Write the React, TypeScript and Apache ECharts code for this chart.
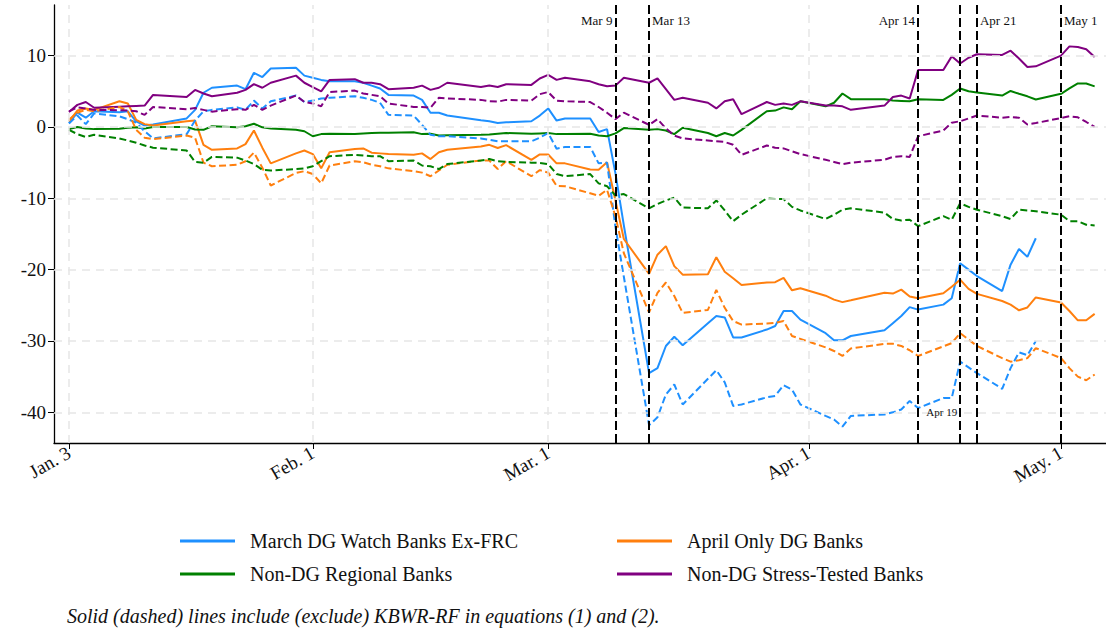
import React, { useEffect, useRef } from "react";
import * as echarts from "echarts";

// Trading days (2023)
const dates: string[] = [
  "2023-01-03","2023-01-04","2023-01-05","2023-01-06","2023-01-09","2023-01-10","2023-01-11","2023-01-12","2023-01-13","2023-01-17",
  "2023-01-18","2023-01-19","2023-01-20","2023-01-23","2023-01-24","2023-01-25","2023-01-26","2023-01-27","2023-01-30","2023-01-31",
  "2023-02-01","2023-02-02","2023-02-03","2023-02-06","2023-02-07","2023-02-08","2023-02-09","2023-02-10","2023-02-13","2023-02-14",
  "2023-02-15","2023-02-16","2023-02-17","2023-02-21","2023-02-22","2023-02-23","2023-02-24","2023-02-27","2023-02-28",
  "2023-03-01","2023-03-02","2023-03-03","2023-03-06","2023-03-07","2023-03-08","2023-03-09","2023-03-10","2023-03-13","2023-03-14",
  "2023-03-15","2023-03-16","2023-03-17","2023-03-20","2023-03-21","2023-03-22","2023-03-23","2023-03-24","2023-03-27","2023-03-28",
  "2023-03-29","2023-03-30","2023-03-31",
  "2023-04-03","2023-04-04","2023-04-05","2023-04-06","2023-04-10","2023-04-11","2023-04-12","2023-04-13","2023-04-14","2023-04-17",
  "2023-04-18","2023-04-19","2023-04-20","2023-04-21","2023-04-24","2023-04-25","2023-04-26","2023-04-27","2023-04-28",
  "2023-05-01","2023-05-02","2023-05-03","2023-05-04","2023-05-05",
];

// March DG Watch Banks Ex-FRC
const marchSolid: (number | null)[] = [
  0.55, 2.0, 1.3, 2.2, 2.05, 2.2, 0.8, 0.2, 0.35, 1.2, 2.4, 4.8, 5.5, 5.8, 5.3, 7.6, 7.0, 8.2, 8.3, 7.2,
  6.9, 6.6, 6.4, 6.4, 6.2, 5.8, 5.4, 4.5, 4.4, 3.8, 2.0, 2.0, 1.6, 0.95, 0.8, 0.55, 0.65, 0.8, 1.6,
  2.6, 0.9, 1.2, 1.2, -0.7, -0.3, -6.5, -13.8, -34.5, -33.8, -30.7, -29.4, -30.6, -27.5, -26.5, -26.7, -29.5, -29.5, -28.4, -27.9, -25.8, -25.8, -27.0,
  -28.9, -29.9, -29.9, -29.3, -28.5, -27.5, -26.5, -25.25, -25.6, -24.9, -24.0, -19.1, -20.0, -20.9, -23.0, -19.3, -17.1, -18.2, -15.6,
  null, null, null, null, null,
];
const marchDashed: (number | null)[] = [
  0.5, 1.6, 0.4, 1.9, 1.5, 1.1, 0.6, -0.6, -1.6, -1.0, 0.9, 2.2, 2.4, 2.75, 2.4, 3.7, 2.6, 3.6, 4.4, 3.5,
  3.7, 4.0, 4.1, 4.3, 4.1, 3.8, 3.4, 1.7, 1.6, 0.3, -1.1, -1.3, -1.3, -1.6, -1.8, -2.0, -2.0, -2.0, -1.5,
  -0.85, -3.05, -2.8, -2.8, -5.1, -5.0, -14.0, -21.0, -41.8, -40.7, -37.5, -36.1, -38.9, -35.3, -34.1, -35.8, -39.1, -38.9, -37.9, -37.7, -36.2, -36.8, -38.9,
  -40.5, -41.0, -42.0, -40.5, -40.3, -40.0, -39.6, -38.4, -39.4, -38.0, -38.0, -32.9, -33.7, -34.5, -36.7, -33.8, -31.6, -32.0, -30.0,
  null, null, null, null, null,
];

// April Only DG Banks
const aprilSolid: number[] = [
  0.8, 2.3, 2.6, 2.4, 3.6, 3.3, 1.0, 0.4, 0.2, 0.8, 0.9, -2.5, -3.2, -3.0, -2.4, -0.5, -2.9, -5.1, -3.7, -3.3,
  -3.8, -5.8, -3.55, -3.1, -3.0, -3.6, -3.7, -3.8, -3.9, -3.7, -4.5, -3.55, -3.2, -2.75, -2.5, -2.95, -2.55, -4.6, -3.85,
  -3.85, -5.1, -5.1, -5.95, -6.0, -4.95, -10.3, -15.7, -20.6, -17.9, -16.7, -19.5, -20.7, -20.65, -18.25, -20.3, -21.2, -22.15, -21.8, -21.75, -21.15, -22.9, -22.6,
  -23.65, -24.2, -24.55, -24.3, -23.25, -23.35, -22.8, -23.75, -24.0, -23.3, -22.4, -21.4, -22.7, -23.4, -24.4, -24.9, -25.7, -25.3, -23.9,
  -24.6, -25.8, -27.1, -27.1, -26.2,
];
const aprilDashed: number[] = [
  1.0, 2.0, 2.4, 2.2, 2.8, 2.2, -0.4, -1.5, -1.7, -1.2, -1.5, -5.0, -5.5, -5.3, -4.8, -3.6, -5.7, -8.2, -6.45, -6.2,
  -6.6, -7.9, -5.4, -4.8, -4.95, -5.3, -5.5, -5.8, -6.2, -6.4, -6.9, -6.1, -5.3, -4.7, -4.7, -5.9, -4.8, -6.9, -6.05,
  -6.4, -8.25, -8.3, -9.3, -9.65, -8.8, -12.5, -17.7, -26.0, -23.25, -21.8, -23.7, -26.05, -25.65, -22.85, -25.35, -27.2, -27.7, -27.55, -27.45, -27.2, -29.3, -29.7,
  -30.9, -31.4, -32.1, -31.05, -30.4, -30.4, -30.7, -31.3, -32.1, -30.75, -30.3, -28.9, -29.8, -30.7, -32.4, -32.9, -32.7, -32.4, -31.0,
  -32.4, -33.8, -35.0, -35.5, -34.7,
];

// Non-DG Regional Banks
const regionalSolid: number[] = [
  -0.3, 0.0, -0.2, -0.3, -0.25, -0.1, -0.05, -0.2, 0.0, 0.0, -0.35, -0.4, 0.1, -0.05, 0.1, 0.45, -0.05, -0.2, -0.4, -0.6,
  -1.3, -1.0, -0.95, -1.0, -0.9, -0.85, -0.8, -0.8, -0.75, -1.0, -0.95, -1.2, -1.15, -1.1, -1.05, -0.95, -0.85, -0.95, -0.9,
  -0.85, -1.0, -1.0, -0.95, -1.2, -1.3, -0.9, -0.15, -0.4, -0.3, -0.5, -1.0, -0.1, -0.85, -1.3, -0.85, -1.2, -0.4, 2.2, 2.3, 2.75, 2.5, 3.6,
  2.9, 3.4, 4.7, 3.9, 3.9, 3.7, 3.65, 3.6, 3.9, 3.8, 4.5, 5.4, 5.0, 4.85, 4.4, 5.05, 4.65, 4.3, 3.85,
  4.65, 5.4, 6.1, 6.1, 5.7,
];
const regionalDashed: number[] = [
  -0.4, -1.0, -1.4, -1.1, -1.6, -1.9, -2.2, -2.6, -2.9, -3.3, -4.9, -5.0, -4.2, -4.3, -4.7, -5.2, -6.0, -6.1, -5.9, -5.8,
  -5.5, -4.8, -4.1, -3.9, -4.0, -4.1, -4.1, -4.8, -4.7, -5.4, -5.5, -5.9, -5.2, -4.7, -4.5, -4.8, -4.9, -5.0, -5.05,
  -5.2, -6.6, -6.9, -6.6, -7.9, -8.3, -9.6, -9.4, -11.4, -10.8, -10.3, -9.9, -11.3, -11.4, -10.3, -11.7, -13.2, -12.3, -10.0, -10.1, -10.1, -11.2, -11.7,
  -12.9, -12.3, -11.6, -11.4, -12.0, -12.9, -13.1, -13.0, -13.9, -12.5, -13.0, -10.7, -11.2, -11.6, -12.5, -12.9, -11.6, -11.7, -11.8,
  -12.3, -13.2, -13.2, -13.7, -13.8,
];

// Non-DG Stress-Tested Banks
const stressSolid: number[] = [
  2.1, 3.1, 3.5, 2.7, 2.85, 2.9, 2.95, 3.0, 4.5, 4.2, 5.2, 4.7, 4.3, 4.8, 5.2, 6.0, 5.5, 6.2, 7.2, 6.2,
  5.6, 5.0, 6.6, 6.7, 6.2, 6.2, 6.0, 5.3, 5.5, 5.8, 5.2, 5.5, 6.2, 5.6, 5.8, 5.6, 6.0, 5.9, 6.8,
  7.3, 6.6, 6.9, 6.4, 6.0, 5.7, 5.8, 6.9, 6.2, 6.8, 5.3, 3.8, 4.1, 3.4, 2.6, 3.6, 3.9, 1.8, 3.5, 3.1, 3.3, 3.1, 3.6,
  3.0, 3.0, 2.9, 2.4, 3.0, 4.2, 4.4, 4.0, 8.0, 8.0, 9.9, 8.9, 9.7, 10.2, 10.1, 10.7, 9.6, 8.4, 8.5,
  10.0, 11.3, 11.2, 10.9, 9.8,
];
const stressDashed: number[] = [
  2.2, 2.75, 2.6, 2.4, 2.35, 2.3, 2.2, 1.7, 2.8, 2.5, 2.65, 2.4, 2.15, 2.5, 2.4, 3.1, 2.4, 3.0, 4.4, 3.5,
  3.3, 2.9, 4.9, 5.1, 4.7, 4.5, 4.3, 3.3, 2.8, 2.8, 2.7, 4.1, 4.0, 3.8, 3.6, 3.55, 3.8, 3.7, 4.6,
  4.9, 3.7, 3.6, 3.5, 2.8, 2.0, 1.1, 2.0, 0.3, 1.1, -0.2, -1.2, -1.6, -1.9, -2.0, -2.1, -2.5, -3.9, -2.6, -2.9, -3.0, -3.4, -3.8,
  -4.6, -4.9, -5.2, -5.0, -4.6, -4.2, -4.1, -4.2, -1.3, -0.5, 0.6, 0.8, 1.2, 1.6, 1.3, 1.4, 1.3, 0.35, 0.55,
  1.25, 1.5, 1.35, 0.7, 0.0,
];

const seriesNames = [
  "March DG Watch Banks Ex-FRC",
  "April Only DG Banks",
  "Non-DG Regional Banks",
  "Non-DG Stress-Tested Banks",
];
const seriesColors = ["#1E90FF", "#FF7F0E", "#008000", "#800080"];

const xTickDates = ["2023-01-03", "2023-02-01", "2023-03-01", "2023-04-01", "2023-05-01"];
const xTickLabels = ["Jan. 3", "Feb. 1", "Mar. 1", "Apr. 1", "May. 1"];
const yTicks = [-40, -30, -20, -10, 0, 10];

const eventDates = ["2023-03-09", "2023-03-13", "2023-04-14", "2023-04-19", "2023-04-21", "2023-05-01"];
const eventLabels = ["Mar 9", "Mar 13", "Apr 14", "Apr 19", "Apr 21", "May 1"];

const caption = "Solid (dashed) lines include (exclude) KBWR-RF in equations (1) and (2).";

const DAY = 86400000;
const ts = (s: string) => new Date(s + "T00:00:00").getTime();

export default function App() {
  const ref = useRef<HTMLDivElement>(null);

  useEffect(() => {
    if (!ref.current) return;
    const chart = echarts.init(ref.current, null, { renderer: "svg" });

    const toData = (vals: (number | null)[]) =>
      dates.map((d, i) => [ts(d), vals[i]]).filter((p) => p[1] !== null && p[1] !== undefined);

    const solidVals = [marchSolid, aprilSolid, regionalSolid, stressSolid];
    const dashedVals = [marchDashed, aprilDashed, regionalDashed, stressDashed];

    const lineSeries: any[] = [];
    solidVals.forEach((vals, i) => {
      lineSeries.push({
        type: "line", name: seriesNames[i], data: toData(vals), showSymbol: false, symbol: "none",
        color: seriesColors[i], lineStyle: { color: seriesColors[i], width: 2 }, z: 3,
      });
    });
    dashedVals.forEach((vals, i) => {
      lineSeries.push({
        type: "line", name: seriesNames[i] + " (excl. KBWR-RF)", data: toData(vals), showSymbol: false, symbol: "none",
        color: seriesColors[i], lineStyle: { color: seriesColors[i], width: 2, type: [7, 3.5] }, z: 3,
      });
    });

    const xTickTs = xTickDates.map(ts);

    const labelPlacement: Record<string, { pos: string; y: number }> = {
      "Mar 9": { pos: "left", y: 14.9 },
      "Mar 13": { pos: "right", y: 14.9 },
      "Apr 14": { pos: "left", y: 14.9 },
      "Apr 19": { pos: "left", y: -40 },
      "Apr 21": { pos: "right", y: 14.9 },
      "May 1": { pos: "right", y: 14.9 },
    };

    const gridSeries = {
      type: "line", name: "_grid", data: [], silent: true, z: 1,
      markLine: {
        silent: true, animation: false, symbol: ["none", "none"], label: { show: false },
        lineStyle: { color: "#e6e6e6", width: 1.5, type: [8, 6] },
        data: [...yTicks.map((v) => ({ yAxis: v })), ...xTickTs.map((t) => ({ xAxis: t }))],
      },
    };

    const eventSeries = {
      type: "line", name: "_events", data: [], silent: true, z: 5,
      markLine: {
        silent: true, animation: false, symbol: ["none", "none"], label: { show: false },
        lineStyle: { color: "#000", width: 2, type: [9, 4] },
        data: eventDates.map((d) => ({ xAxis: ts(d) })),
      },
      markPoint: {
        silent: true, animation: false, symbol: "circle", symbolSize: 0,
        data: eventDates.map((d, i) => {
          const lp = labelPlacement[eventLabels[i]];
          return {
            name: eventLabels[i],
            coord: [ts(d), lp.y],
            label: {
              show: true, position: lp.pos, distance: 3, formatter: "{b}",
              fontFamily: "Liberation Serif",
              fontSize: eventLabels[i] === "Apr 19" ? 11 : 13,
              color: "#111",
            },
          };
        }),
      },
    };

    const legendCommon = {
      orient: "vertical", icon: "rect", itemWidth: 55, itemHeight: 3, itemGap: 13, padding: 0, selectedMode: false,
    };

    chart.setOption({
      animation: false,
      backgroundColor: "#fff",
      title: {
        text: caption, left: 62, top: 601,
        textStyle: { fontFamily: "Liberation Serif", fontStyle: "italic", fontWeight: "normal", fontSize: 20, color: "#111" },
      },
      legend: [
        { ...legendCommon, data: [seriesNames[0], seriesNames[2]], left: 180, top: 531,
          textStyle: { fontFamily: "Liberation Serif", fontSize: 20, color: "#111", lineHeight: 20, padding: [0, 0, 0, 10] } },
        { ...legendCommon, data: [seriesNames[1], seriesNames[3]], left: 617, top: 531,
          textStyle: { fontFamily: "Liberation Serif", fontSize: 20, color: "#111", lineHeight: 20, padding: [0, 0, 0, 10] } },
      ],
      grid: { left: 54, right: 0, top: 5, bottom: 186, containLabel: false },
      xAxis: {
        type: "value",
        min: ts("2023-01-03") - 1.78 * DAY,
        max: ts("2023-05-01") + 5.35 * DAY,
        axisLine: { show: true, onZero: false, lineStyle: { color: "#000", width: 1.3 } },
        axisTick: { show: true, customValues: xTickTs, length: 6, lineStyle: { color: "#000", width: 1 } },
        axisLabel: {
          customValues: xTickTs, rotate: 30, margin: 8, fontFamily: "Liberation Serif", fontSize: 19, color: "#111",
          formatter: (v: number) => {
            const idx = xTickTs.findIndex((t) => Math.abs(t - v) < DAY / 2);
            return idx >= 0 ? xTickLabels[idx] : "";
          },
        },
        splitLine: { show: false },
      },
      yAxis: {
        type: "value", min: -44.3, max: 17.1,
        axisLine: { show: true, onZero: false, lineStyle: { color: "#000", width: 1.3 } },
        axisTick: { show: true, customValues: yTicks, length: 6, lineStyle: { color: "#000", width: 1 } },
        axisLabel: { customValues: yTicks, margin: 8, fontFamily: "Liberation Serif", fontSize: 19, color: "#111" },
        splitLine: { show: false },
      },
      series: [gridSeries, ...lineSeries, eventSeries],
    });

    return () => chart.dispose();
  }, []);

  return (
    <div ref={ref} style={{ position: "absolute", left: 0, top: 0, width: 1106, height: 629, background: "#fff" }} />
  );
}
